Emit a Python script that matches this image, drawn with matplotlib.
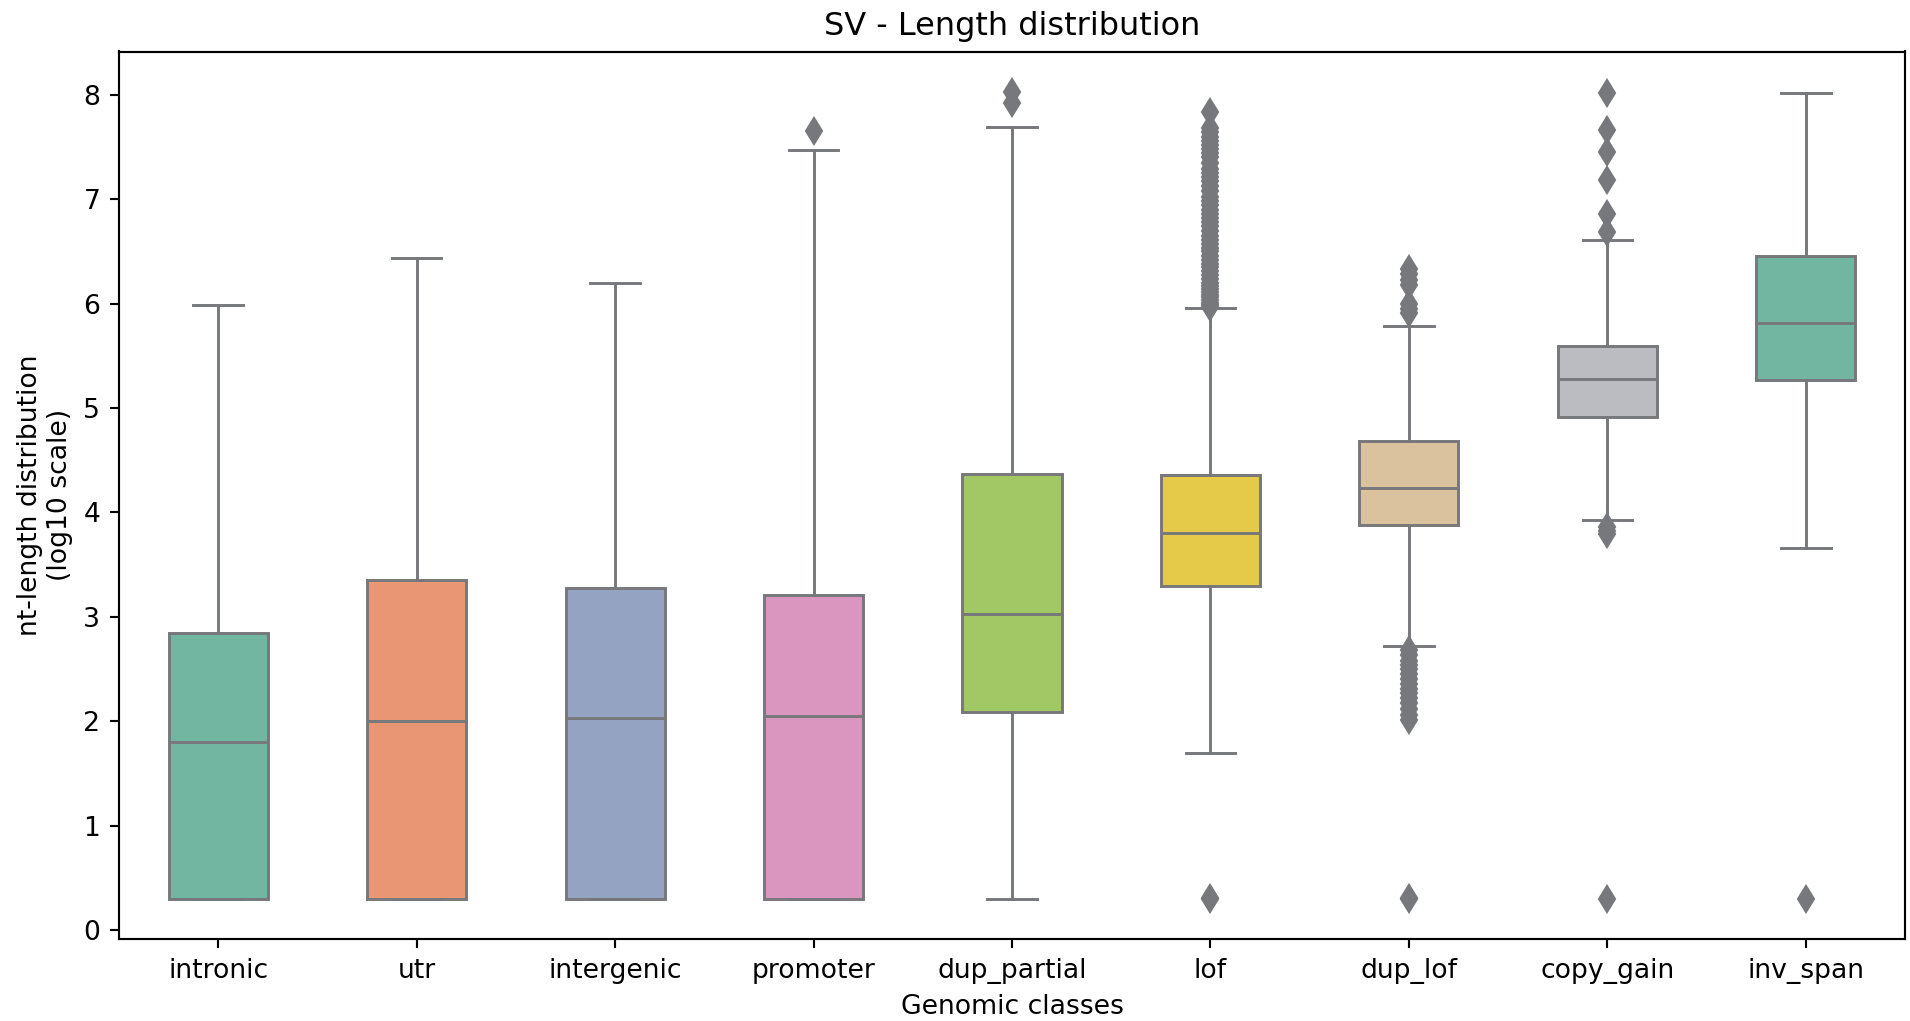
import colorsys
import matplotlib
matplotlib.use("Agg")
import matplotlib.pyplot as plt
import matplotlib.colors as mcolors

# Genomic classes on the x axis
categories = ["intronic", "utr", "intergenic", "promoter", "dup_partial",
              "lof", "dup_lof", "copy_gain", "inv_span"]

# Box statistics, log10 of SV length
whisker_low = [0.30, 0.30, 0.30, 0.30, 0.30, 1.70, 2.72, 3.93, 3.66]
quartile_1 = [0.30, 0.30, 0.30, 0.30, 2.09, 3.30, 3.88, 4.91, 5.27]
medians = [1.80, 2.006, 2.03, 2.05, 3.03, 3.80, 4.23, 5.28, 5.81]
quartile_3 = [2.845, 3.35, 3.28, 3.21, 4.37, 4.36, 4.68, 5.595, 6.46]
whisker_high = [5.99, 6.44, 6.20, 7.475, 7.69, 5.96, 5.79, 6.61, 8.02]

# Outliers per class
outliers_intronic = []
outliers_utr = []
outliers_intergenic = []
outliers_promoter = [7.65]
outliers_dup_partial = [7.92, 8.03]
outliers_lof = [0.30, 0.31,
                5.97, 5.99, 6.01, 6.03, 6.06, 6.08, 6.11, 6.14, 6.17, 6.20,
                6.24, 6.27, 6.31, 6.35, 6.38, 6.42, 6.46, 6.50, 6.53, 6.57,
                6.61, 6.65, 6.70, 6.74, 6.78, 6.82, 6.86, 6.90, 6.94, 6.98,
                7.02, 7.08, 7.13, 7.17, 7.21, 7.25, 7.29, 7.35, 7.40, 7.44,
                7.48, 7.52, 7.56, 7.60, 7.64, 7.68, 7.84]
outliers_dup_lof = [0.30, 0.31,
                    2.01, 2.06, 2.12, 2.17, 2.22, 2.27, 2.31, 2.36, 2.40,
                    2.45, 2.50, 2.54, 2.58, 2.63, 2.68,
                    5.91, 5.95, 6.00, 6.18, 6.23, 6.28, 6.33]
outliers_copy_gain = [0.30, 3.79, 3.82, 3.86, 6.69, 6.86, 7.18, 7.45, 7.66, 8.02]
outliers_inv_span = [0.30]

outliers = [outliers_intronic, outliers_utr, outliers_intergenic,
            outliers_promoter, outliers_dup_partial, outliers_lof,
            outliers_dup_lof, outliers_copy_gain, outliers_inv_span]

# Set2-style palette (last entry a cool light grey)
set2 = ["#66c2a5", "#fc8d62", "#8da0cb", "#e78ac3", "#a6d854",
        "#ffd92f", "#e5c494", "#bbbcc1"]


def desaturate(color, prop=0.75):
    r, g, b = mcolors.to_rgb(color)
    h, l, s = colorsys.rgb_to_hls(r, g, b)
    return colorsys.hls_to_rgb(h, l, s * prop)


box_colors = [desaturate(set2[i % len(set2)]) for i in range(len(categories))]
box_colors[7] = "#bbbcc1"
line_color = "#77787b"

stats = []
for i, name in enumerate(categories):
    stats.append(dict(label=name, whislo=whisker_low[i], q1=quartile_1[i],
                      med=medians[i], q3=quartile_3[i], whishi=whisker_high[i],
                      fliers=outliers[i]))

plt.rcParams["font.family"] = ["DejaVu Sans"]
dpi = 192
fig = plt.figure(figsize=(1910 / dpi, 1021 / dpi), dpi=dpi)
ax = fig.add_axes([119 / 1910, 82 / 1021, 1786 / 1910, 887.5 / 1021])

lw = 1.1
art = ax.bxp(stats, positions=range(len(categories)), widths=0.5,
             patch_artist=True, showfliers=True,
             boxprops=dict(edgecolor=line_color, linewidth=lw),
             medianprops=dict(color=line_color, linewidth=lw),
             whiskerprops=dict(color=line_color, linewidth=lw),
             capprops=dict(color=line_color, linewidth=lw),
             flierprops=dict(marker="d", markerfacecolor=line_color,
                             markeredgecolor=line_color, markersize=7,
                             markeredgewidth=0.8, linestyle="none"))
for patch, c in zip(art["boxes"], box_colors):
    patch.set_facecolor(c)

ax.set_xticks(range(len(categories)))
ax.set_xticklabels(categories)
ax.set_xlim(-0.5, len(categories) - 0.5)
ax.set_ylim(-0.086, 8.415)
ax.set_yticks(range(0, 9))

ax.tick_params(labelsize=10, width=0.8, length=3.5)
for sp in ax.spines.values():
    sp.set_linewidth(0.8)

ax.set_title("SV - Length distribution", fontsize=12)
ax.set_xlabel("Genomic classes", fontsize=10, labelpad=4)
ax.set_ylabel("nt-length distribution\n(log10 scale)", fontsize=10)

fig.savefig("out.png", dpi=dpi)
